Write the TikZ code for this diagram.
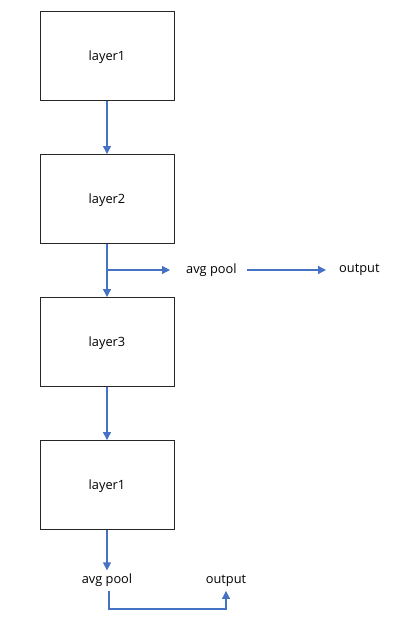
\documentclass[tikz,border=0pt]{standalone}
\usepackage{fontspec}
\setmainfont{Open Sans}
\usetikzlibrary{arrows.meta}
\definecolor{conn}{HTML}{4472C4}
\begin{document}
\begin{tikzpicture}[x=1pt,y=-1pt,
  layerbox/.style={draw=black!85,line width=0.9pt,minimum width=134pt,minimum height=89pt,inner sep=0pt,text depth=0pt,font=\fontsize{12.8}{14}\selectfont},
  lbl/.style={inner sep=0pt,font=\fontsize{12.8}{14}\selectfont},
  conn/.style={draw=conn,line width=1.2pt,-{Triangle[length=8pt,width=8pt]}}]
\useasboundingbox (0,0) rectangle (403,636);
\node[layerbox] (l1) at (107,56) {layer1};
\node[layerbox] (l2) at (107,199) {layer2};
\node[layerbox] (l3) at (107,342) {layer3};
\node[layerbox] (l4) at (107,485) {layer1};
\node[lbl,anchor=west] (ap1) at (186,270) {avg pool};
\node[lbl,anchor=west] (out1) at (339,270) {output};
\node[lbl] (ap2) at (107,580) {avg pool};
\node[lbl] (out2) at (226,581) {output};
\coordinate (br) at (107,270);
\coordinate (bend) at (226,609);
\draw[conn] (l1.south) -- (l2.north);
\draw[conn] (l2.south) -- (l3.north);
\draw[conn] (br) -- ([xshift=-16pt]ap1.west);
\draw[conn] ([xshift=10pt]ap1.east) -- ([xshift=-13pt]out1.west);
\draw[conn] (l3.south) -- (l4.north);
\draw[conn] (l4.south) -- ([yshift=3pt]ap2.north);
\draw[conn] ([xshift=2pt,yshift=-4pt]ap2.south) |- (bend) -- ([yshift=-4pt]out2.south);
\end{tikzpicture}
\end{document}
